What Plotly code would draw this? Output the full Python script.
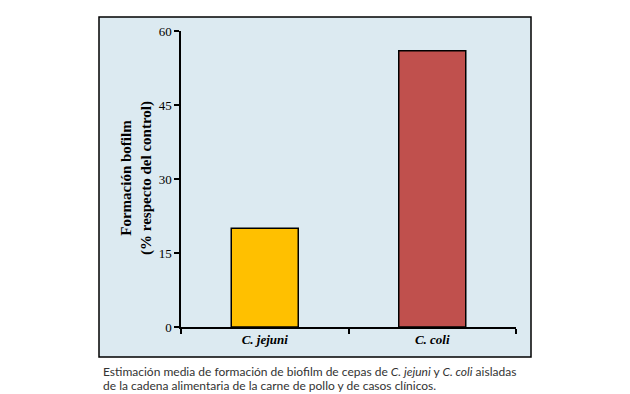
import plotly.graph_objects as go

categories = ["C. jejuni", "C. coli"]
values = [20, 56]
bar_colors = ["#FFC000", "#C0504D"]
y_ticks = [0, 15, 30, 45, 60]

L, R, T, B = 181, 516, 31, 327
W, H = 630, 394

def px_x(p):
    return (p - L) / (R - L)

def px_y(p):
    return (B - p) / (B - T)

fig = go.Figure()
fig.add_trace(go.Bar(
    x=categories, y=values, width=0.4,
    marker=dict(color=bar_colors, line=dict(color="black", width=1.5)),
))

fig.add_shape(type="rect", xref="paper", yref="paper",
              x0=px_x(99), x1=px_x(531), y0=px_y(357), y1=px_y(17),
              fillcolor="#DCEAF1", line=dict(color="black", width=1.5), layer="below")

serif = "Liberation Serif"
fig.update_layout(
    width=W, height=H,
    margin=dict(l=L, r=W - R, t=T, b=H - B),
    paper_bgcolor="white", plot_bgcolor="rgba(0,0,0,0)",
    showlegend=False,
    xaxis=dict(type="category", range=[-0.5, 1.5], tickson="boundaries",
               ticks="outside", ticklen=5, tickwidth=1.5, tickcolor="black",
               showline=True, linecolor="black", linewidth=1.5, showgrid=False,
               tickvals=categories, ticktext=["<b><i>C. jejuni</i></b>", "<b><i>C. coli</i></b>"],
               tickfont=dict(family=serif, size=13, color="black")),
    yaxis=dict(range=[0, 60], tickvals=y_ticks, ticks="outside", ticklen=5,
               tickwidth=1.5, tickcolor="black", showline=True, linecolor="black",
               linewidth=1.5, showgrid=False, zeroline=False,
               tickfont=dict(family=serif, size=13, color="black"),
               tickprefix="<b>", ticksuffix="</b>"),
)

fig.add_annotation(xref="paper", yref="paper", x=px_x(136), y=px_y(178),
                   xanchor="center", yanchor="middle",
                   text="<b>Formación bofilm<br>(% respecto del control)</b>",
                   textangle=-90, showarrow=False,
                   font=dict(family=serif, size=15, color="black"))

cap_font = dict(family="Lato", size=12, color="#333333")
fig.add_annotation(xref="paper", yref="paper", x=px_x(101), y=px_y(371), xanchor="left", yanchor="middle",
                   text="Estimación media de formación de biofilm de cepas de <i>C. jejuni</i> y <i>C. coli</i> aisladas",
                   showarrow=False, font=cap_font)
fig.add_annotation(xref="paper", yref="paper", x=px_x(101), y=px_y(385), xanchor="left", yanchor="middle",
                   text="de la cadena alimentaria de la carne de pollo y de casos clínicos.",
                   showarrow=False, font=cap_font)

fig.write_html("out.html", config={"displayModeBar": False},
               post_script="document.body.style.margin='0';document.body.style.padding='0';")
